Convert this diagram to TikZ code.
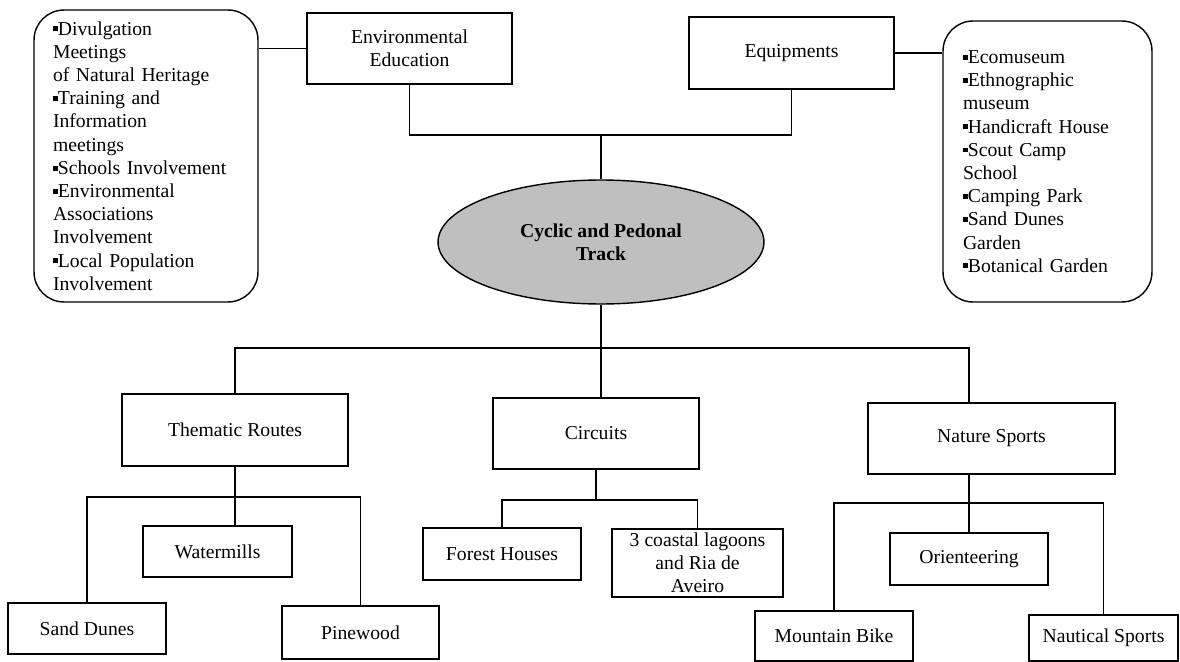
\documentclass[tikz,border=0pt]{standalone}
\usepackage{fontspec}
\setmainfont{Liberation Serif}
\usepackage{tikz}
\usetikzlibrary{shapes.geometric,positioning}
\newcommand{\bsq}{\raisebox{0.42ex}{\rule{0.25em}{0.25em}}}

\begin{document}
\begin{tikzpicture}[x=0.02cm,y=-0.02cm,thick,
  every node/.style={font=\fontsize{11.2}{13.2}\selectfont},
  plain box/.style={rectangle,draw,align=center,inner sep=1pt},
  list box/.style={rectangle,draw,rounded corners=0.6cm,align=left},
  hub node/.style={ellipse,draw,fill=black!25,align=center,inner sep=0pt,
    font=\fontsize{11.2}{13.2}\selectfont\bfseries}]
					\useasboundingbox (0,0) rectangle (1180,662);
					\node[list box,text width=3.72cm,inner xsep=0.38cm,minimum height=5.84cm] (edulist) at (146,156)
						{\bsq Divulgation\\Meetings\\of Natural Heritage\\\bsq Training and\\Information\\meetings\\\bsq Schools Involvement\\\bsq Environmental\\Associations\\Involvement\\\bsq Local Population\\Involvement};
					\node[plain box,minimum width=4.1cm,minimum height=1.42cm] (ee) at (409.5,48.5) {Environmental\\Education};
					\node[plain box,minimum width=4.1cm,minimum height=1.44cm] (eq) at (791.5,53) {Equipments};
					\node[list box,text width=3.38cm,inner xsep=0.4cm,minimum height=5.62cm] (eqlist) at (1047.5,161.5)
						{\bsq Ecomuseum\\\bsq Ethnographic\\museum\\\bsq Handicraft House\\\bsq Scout Camp\\School\\\bsq Camping Park\\\bsq Sand Dunes\\Garden\\\bsq Botanical Garden};
					\node[hub node,minimum width=6.52cm,minimum height=2.48cm] (track) at (601,242) {Cyclic and Pedonal\\Track};
					\node[plain box,minimum width=4.52cm,minimum height=1.44cm] (tr) at (235,430) {Thematic Routes};
					\node[plain box,minimum width=4.12cm,minimum height=1.42cm] (ci) at (596,433.5) {Circuits};
					\node[plain box,minimum width=4.94cm,minimum height=1.42cm] (ns) at (991.5,438.5) {Nature Sports};
					\node[plain box,minimum width=2.98cm,minimum height=1.02cm] (wm) at (217.5,551.5) {Watermills};
					\node[plain box,minimum width=3.16cm,minimum height=1.02cm] (sd) at (87,628.5) {Sand Dunes};
					\node[plain box,minimum width=3.14cm,minimum height=1.06cm] (pw) at (360.5,632.5) {Pinewood};
					\node[plain box,minimum width=3.16cm,minimum height=1.04cm] (fh) at (502,554) {Forest Houses};
					\node[plain box,minimum width=3.42cm,minimum height=1.36cm] (lg) at (697.5,563) {3 coastal lagoons\\and Ria de\\Aveiro};
					\node[plain box,minimum width=3.16cm,minimum height=1.04cm] (or) at (969,559) {Orienteering};
					\node[plain box,minimum width=3.16cm,minimum height=1.0cm] (mb) at (834,636) {Mountain Bike};
					\node[plain box,minimum width=2.98cm,minimum height=0.92cm] (nt) at (1103.5,638) {Nautical Sports};
					\coordinate (topj) at (601,135);
					\coordinate (midj) at (601,348);
					\coordinate (trj) at (0,497);
					\coordinate (cij) at (0,500);
					\coordinate (nsj) at (0,503);
				\draw (edulist.east |- ee.west) -- (ee.west);
				\draw (eq.east) -- (eq.east -| eqlist.west);
				\draw (ee.south) |- (topj) -| (eq.south);
				\draw (topj) -- (track.north);
				\draw (track.south) -- (midj);
				\draw (midj) -| (tr.north);
				\draw (midj) -- (midj |- ci.north);
				\draw (midj) -| (or.north |- ns.north);
				\draw (tr.south) -- (tr.south |- wm.north);
				\draw (sd.north) |- (pw.north |- trj) -- (pw.north);
				\draw (ci.south) -- (ci.south |- cij);
				\draw (fh.north) |- (lg.north |- cij) -- (lg.north);
				\draw (or.north |- ns.south) -- (or.north);
				\draw (mb.north) |- (nt.north |- nsj) -- (nt.north);
\end{tikzpicture}
\end{document}
